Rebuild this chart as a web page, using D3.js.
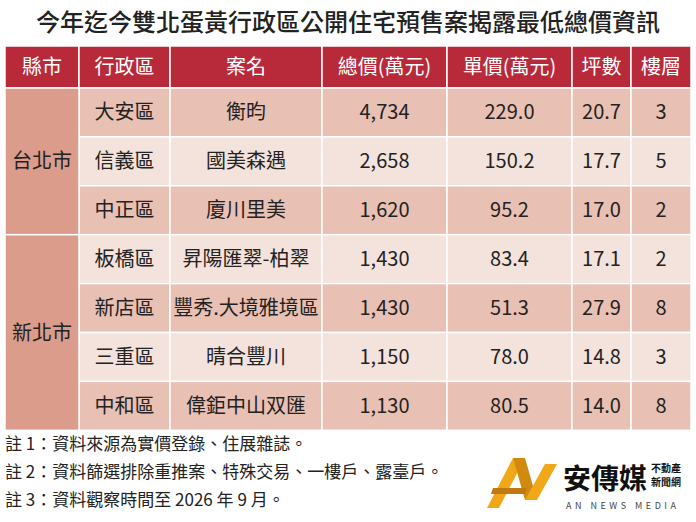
<!DOCTYPE html>
<html><head><meta charset="utf-8">
<script src="https://cdn.jsdelivr.net/npm/d3@7"></script>
<style>body{margin:0;background:#fff}text{font-family:"Noto Sans CJK TC",sans-serif}</style>
</head><body><svg id="c" width="696" height="522"></svg>
<script>
var title = "今年迄今雙北蛋黃行政區公開住宅預售案揭露最低總價資訊";
var headers = ["縣市","行政區","案名","總價(萬元)","單價(萬元)","坪數","樓層"];
var counties = [{name:"台北市", rows:3},{name:"新北市", rows:4}];
var districts = ["大安區","信義區","中正區","板橋區","新店區","三重區","中和區"];
var projects = ["衡昀","國美森遇","廈川里美","昇陽匯翠-柏翠","豐秀.大境雅境區","晴合豐川","偉鉅中山双匯"];
var totalPrice = [4734,2658,1620,1430,1430,1150,1130];
var unitPrice = [229.0,150.2,95.2,83.4,51.3,78.0,80.5];
var area = [20.7,17.7,17.0,17.1,27.9,14.8,14.0];
var floors = [3,5,2,2,8,3,8];
var notes = ["註 1：資料來源為實價登錄、住展雜誌。","註 2：資料篩選排除重推案、特殊交易、一樓戶、露臺戶。","註 3：資料觀察時間至 2026 年 9 月。"];

var svg = d3.select("#c");
var colEdges = [5,79,170,322,447,572,631,691];
var headTop = 46, headH = 42, rowH = 48.9;
var y = d3.scaleLinear().domain([0,7]).range([headTop+headH, headTop+headH+7*rowH]);

svg.append("text").attr("x",348).attr("y",31).attr("text-anchor","middle")
  .style("font-size","24px").style("font-weight","500").attr("fill","#222").text(title);

// header
headers.forEach(function(h,i){
  svg.append("rect").attr("x",colEdges[i]).attr("y",headTop).attr("width",colEdges[i+1]-colEdges[i]).attr("height",headH)
    .attr("fill","#b82a3a").attr("stroke","#fff").attr("stroke-width",1.5);
  svg.append("text").attr("x",(colEdges[i]+colEdges[i+1])/2).attr("y",headTop+headH/2+7)
    .attr("text-anchor","middle").style("font-size","20px").attr("fill","#fff").text(h);
});

// body cells
var fmt = d3.format(",");
districts.forEach(function(d,r){
  var vals = [d, projects[r], fmt(totalPrice[r]), unitPrice[r].toFixed(1), area[r].toFixed(1), floors[r]];
  vals.forEach(function(v,j){
    var i=j+1;
    svg.append("rect").attr("x",colEdges[i]).attr("y",y(r)).attr("width",colEdges[i+1]-colEdges[i]).attr("height",rowH)
      .attr("fill", r%2==0 ? "#e9c0b4" : "#f4e2dc").attr("stroke","#fff").attr("stroke-width",1.5);
    svg.append("text").attr("x",(colEdges[i]+colEdges[i+1])/2).attr("y",y(r)+rowH/2+7)
      .attr("text-anchor","middle").style("font-size","20px").attr("fill","#222").text(v);
  });
});
var start=0;
counties.forEach(function(c){
  svg.append("rect").attr("x",colEdges[0]).attr("y",y(start)).attr("width",colEdges[1]-colEdges[0]).attr("height",y(start+c.rows)-y(start))
    .attr("fill","#dc9c8c").attr("stroke","#fff").attr("stroke-width",1.5);
  svg.append("text").attr("x",(colEdges[0]+colEdges[1])/2).attr("y",(y(start)+y(start+c.rows))/2+7)
    .attr("text-anchor","middle").style("font-size","20px").attr("fill","#222").text(c.name);
  start+=c.rows;
});

notes.forEach(function(n,i){
  svg.append("text").attr("x",5).attr("y",450+i*28).style("font-size","17px").attr("fill","#222").text(n);
});

// logo
var lg = svg.append("g").attr("transform","translate(487,458)");
lg.append("path").attr("d","M0,50 L26,0 L38,0 L12,50 Z").attr("fill","#f0a818");
lg.append("path").attr("d","M26,0 L38,0 L50,42 L38,42 Z").attr("fill","#d08a10");
lg.append("path").attr("d","M38,42 L58,6 L70,6 L50,42 Z").attr("fill","#f0a818");
lg.append("path").attr("d","M6,30 L40,30 L38,36 L4,36 Z").attr("fill","#c07810");
lg.append("text").attr("x",76).attr("y",31).style("font-size","28px").style("font-weight","bold").attr("fill","#111").text("安傳媒");
lg.append("text").attr("x",164).attr("y",14).style("font-size","10px").style("font-weight","bold").attr("fill","#111").text("不動產");
lg.append("text").attr("x",164).attr("y",28).style("font-size","10px").style("font-weight","bold").attr("fill","#111").text("新聞網");
lg.append("text").attr("x",79).attr("y",51).style("font-size","9px").style("letter-spacing","3.5px").attr("fill","#444").text("AN NEWS MEDIA");
</script></body></html>
